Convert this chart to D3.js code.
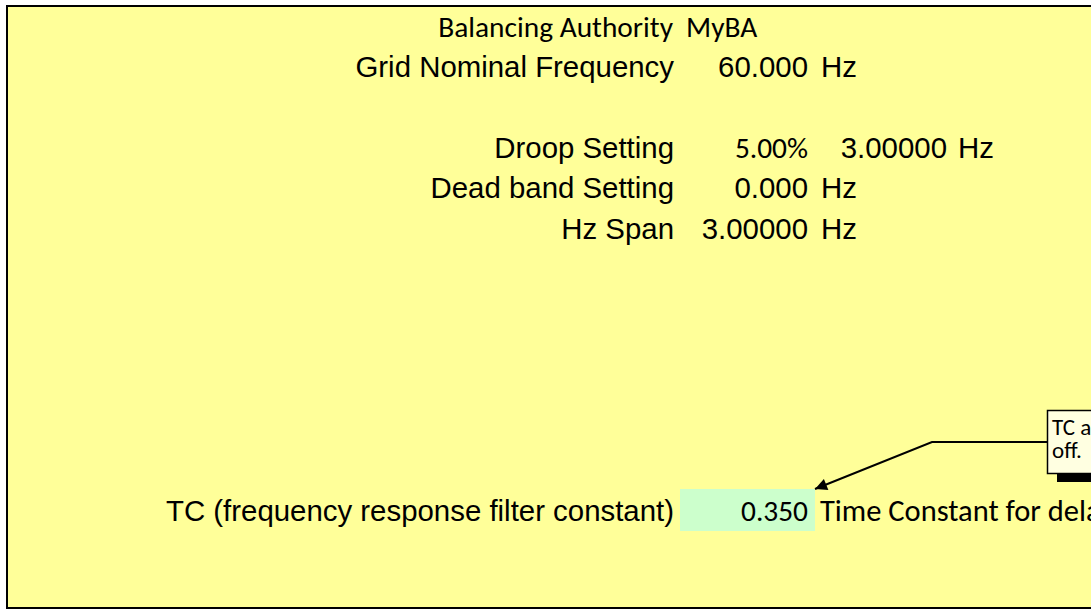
<!DOCTYPE html>
<html>
<head>
<meta charset="utf-8">
<script src="https://cdn.jsdelivr.net/npm/d3@7"></script>
<style>
  body { margin: 0; background: #fff; overflow: hidden; }
</style>
</head>
<body>
<div id="visContainer"></div>
<script>
// sheet content, one entry per row
const rowIndex = [0, 1, 3, 4, 5, 12];
const rowLabels = [
  "Balancing Authority",
  "Grid Nominal Frequency",
  "Droop Setting",
  "Dead band Setting",
  "Hz Span",
  "TC (frequency response filter constant)",
];
const rowValues = ["MyBA", "60.000", "5.00%", "0.000", "3.00000", "0.350"];
const rowUnits = ["", "Hz", "", "Hz", "Hz", "Time Constant for delay"];
const droopHz = "3.00000";
const droopUnit = "Hz";
const noteLines = ["TC a", "off."];

const width = 1091;
const height = 612;

const svg = d3
  .select("#visContainer")
  .append("svg")
  .attr("width", width)
  .attr("height", height);

const y = d3.scaleLinear().domain([0, 12]).range([37, 521]);

const arial = "'Liberation Sans', Arial, sans-serif";
const calibri = "Carlito, Lato, sans-serif";
const fontSize = "29.4px";

// which cells use the calibri-like font
const calibriValue = [true, false, true, false, false, true];

// sheet background + border
svg.append("rect")
  .attr("x", 7).attr("y", 6)
  .attr("width", width + 10).attr("height", 602)
  .attr("fill", "#ffff99")
  .attr("stroke", "#000")
  .attr("stroke-width", 2);

// highlighted input cell for TC
svg.append("rect")
  .attr("x", 680).attr("y", y(12) - 32)
  .attr("width", 135).attr("height", 42)
  .attr("fill", "#ccffcc");

// labels (right aligned)
svg.selectAll("text.label")
  .data(rowLabels)
  .join("text")
  .attr("class", "label")
  .attr("x", (d, i) => (i === 0 ? 673 : 674))
  .attr("y", (d, i) => y(rowIndex[i]))
  .attr("text-anchor", "end")
  .style("font-family", (d, i) => (i === 0 ? calibri : arial))
  .style("font-size", fontSize)
  .text((d) => d);

// values
svg.selectAll("text.value")
  .data(rowValues)
  .join("text")
  .attr("class", "value")
  .attr("x", (d, i) => (i === 0 ? 686 : 808))
  .attr("y", (d, i) => y(rowIndex[i]))
  .attr("text-anchor", (d, i) => (i === 0 ? "start" : "end"))
  .style("font-family", (d, i) => (calibriValue[i] ? calibri : arial))
  .style("font-size", fontSize)
  .text((d) => d);

// units
svg.selectAll("text.unit")
  .data(rowUnits)
  .join("text")
  .attr("class", "unit")
  .attr("x", (d, i) => (i === 5 ? 820 : 821))
  .attr("y", (d, i) => y(rowIndex[i]))
  .style("font-family", (d, i) => (i === 5 ? calibri : arial))
  .style("font-size", (d, i) => (i === 5 ? "30.5px" : fontSize))
  .text((d) => d);

// droop in Hz
svg.append("text")
  .attr("x", 947).attr("y", y(3))
  .attr("text-anchor", "end")
  .style("font-family", arial).style("font-size", fontSize)
  .text(droopHz);
svg.append("text")
  .attr("x", 958).attr("y", y(3))
  .style("font-family", arial).style("font-size", fontSize)
  .text(droopUnit);

// comment note with connector arrow
svg.append("defs").append("marker")
  .attr("id", "arrow")
  .attr("viewBox", "0 0 10 10")
  .attr("refX", 10).attr("refY", 5)
  .attr("markerWidth", 17).attr("markerHeight", 12)
  .attr("markerUnits", "userSpaceOnUse")
  .attr("orient", "auto")
  .append("path")
  .attr("d", "M0,0L10,5L0,10Z")
  .attr("fill", "#000");

svg.append("path")
  .attr("d", `M1047,442L932,442L815,489`)
  .attr("fill", "none")
  .attr("stroke", "#000")
  .attr("stroke-width", 2)
  .attr("marker-end", "url(#arrow)");

svg.append("rect")
  .attr("x", 1057).attr("y", 474)
  .attr("width", 60).attr("height", 8)
  .attr("fill", "#000");

svg.append("rect")
  .attr("x", 1047.5).attr("y", 410.5)
  .attr("width", 60).attr("height", 63)
  .attr("fill", "#ffffe1")
  .attr("stroke", "#000")
  .attr("stroke-width", 1.5);

svg.selectAll("text.note")
  .data(noteLines)
  .join("text")
  .attr("class", "note")
  .attr("x", 1052)
  .attr("y", (d, i) => 435 + i * 23)
  .style("font-family", calibri)
  .style("font-size", "23px")
  .text((d) => d);
</script>
</body>
</html>
